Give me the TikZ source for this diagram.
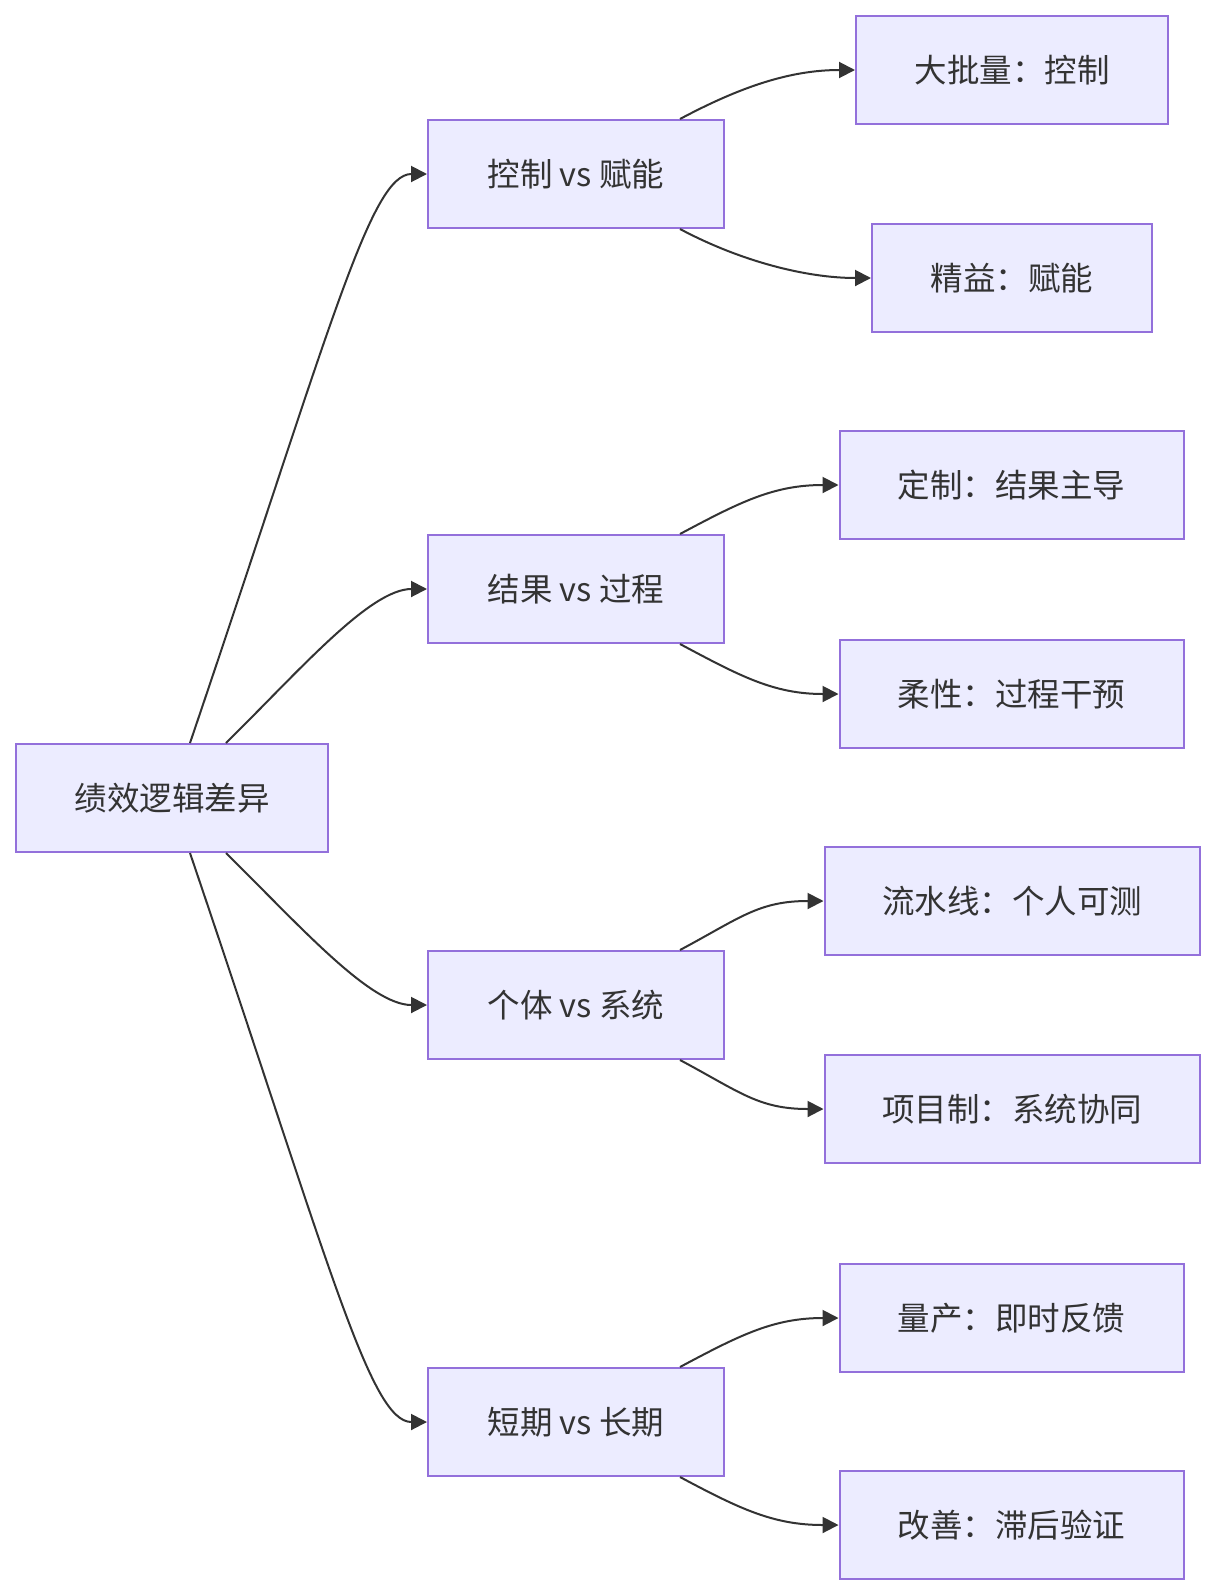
\documentclass[tikz,border=0pt]{standalone}
\usepackage{fontspec}
\newfontfamily\cjk{Noto Sans CJK SC}
\usetikzlibrary{arrows.meta}
\definecolor{boxfill}{HTML}{ECECFF}
\definecolor{boxline}{HTML}{9370DB}
\definecolor{ink}{HTML}{333333}
\tikzset{
  box/.style={draw=boxline, fill=boxfill, line width=2pt, minimum height=108pt,
    inner sep=0pt, text=ink, font=\cjk\fontsize{32.5}{38}\selectfont},
  link/.style={draw=ink, line width=2pt, -{Triangle[length=16pt,width=16pt]}},
}
\begin{document}
\begin{tikzpicture}[x=1pt,y=-1pt]
\useasboundingbox (0,0) rectangle (1215,1596);
\node[box, minimum width=312pt] (root) at (172,798) {绩效逻辑差异};
\node[box, minimum width=296pt] (m1) at (576,174) {控制 vs 赋能};
\node[box, minimum width=296pt] (m2) at (576,589) {结果 vs 过程};
\node[box, minimum width=296pt] (m3) at (576,1005) {个体 vs 系统};
\node[box, minimum width=296pt] (m4) at (576,1422) {短期 vs 长期};
\node[box, minimum width=312pt] (r1) at (1012,70) {大批量：控制};
\node[box, minimum width=280pt] (r2) at (1012,278) {精益：赋能};
\node[box, minimum width=344pt] (r3) at (1011.5,485) {定制：结果主导};
\node[box, minimum width=344pt] (r4) at (1011.5,694) {柔性：过程干预};
\node[box, minimum width=375pt] (r5) at (1012,901) {流水线：个人可测};
\node[box, minimum width=375pt] (r6) at (1012,1109) {项目制：系统协同};
\node[box, minimum width=344pt] (r7) at (1011.5,1318) {量产：即时反馈};
\node[box, minimum width=344pt] (r8) at (1011.5,1525) {改善：滞后验证};
% root to middle
\coordinate (rt1) at ([xshift=18pt]root.north);
\coordinate (rt2) at ([xshift=54pt]root.north);
\coordinate (rb1) at ([xshift=18pt]root.south);
\coordinate (rb2) at ([xshift=54pt]root.south);
\draw[link] (rt1) .. controls (330,330) and (370,174) .. (m1.west);
\draw[link] (rt2) .. controls (300,670) and (370,589) .. (m2.west);
\draw[link] (rb2) .. controls (300,926) and (370,1005) .. (m3.west);
\draw[link] (rb1) .. controls (330,1266) and (370,1422) .. (m4.west);
% middle to right
\foreach \m/\a/\b in {m1/r1/r2, m2/r3/r4, m3/r5/r6, m4/r7/r8}{
  \coordinate (\m t) at ([xshift=104pt]\m.north);
  \coordinate (\m b) at ([xshift=104pt]\m.south);
  \draw[link] (\m t) .. controls +(60,-32) and ([xshift=-65pt]\a.west) .. (\a.west);
  \draw[link] (\m b) .. controls +(60,32) and ([xshift=-65pt]\b.west) .. (\b.west);
}
\end{tikzpicture}
\end{document}
